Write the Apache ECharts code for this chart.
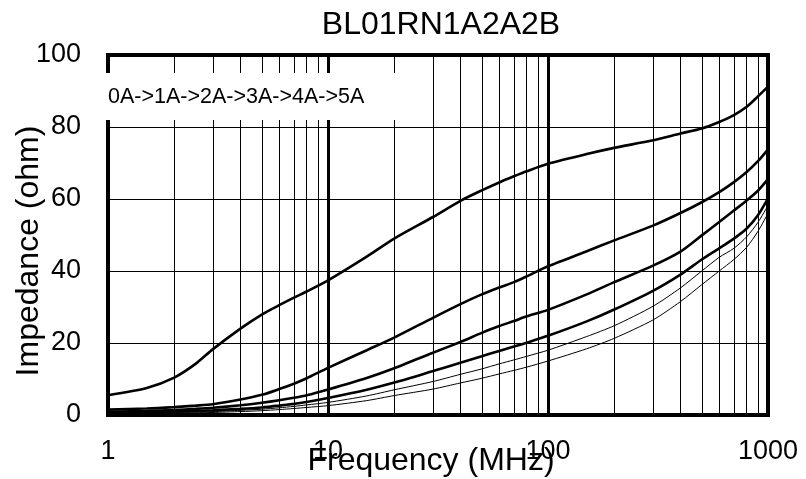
<!DOCTYPE html>
<html>
<head>
<meta charset="utf-8">
<script src="https://cdn.jsdelivr.net/npm/echarts@6/dist/echarts.min.js"></script>
<style>
html,body{margin:0;padding:0;background:#fff;}
#chart{width:806px;height:479px;}
</style>
</head>
<body>
<div id="chart"></div>
<script>
var titleText = 'BL01RN1A2A2B';
var xName = 'Frequency (MHz)';
var yName = 'Impedance (ohm)';
var seriesNames = ['0A', '1A', '2A', '3A', '4A', '5A'];
var freq = [1,1.5,2,2.5,3,4,5,6,7,8,10,15,20,30,40,50,60,70,80,100,150,200,300,400,500,600,700,800,900,1000];
var z0A = [5.5,7.5,10.4,14.2,18.3,24.0,27.9,30.5,32.6,34.3,37.4,44,49,55.0,59.5,62.4,64.6,66.3,67.7,69.8,72.5,74.2,76.3,78.2,79.6,81.4,83.3,85.6,88.5,91.2];
var z1A = [1.5,1.8,2.2,2.6,3.0,4.3,5.6,7.2,8.7,10.2,13.1,18.0,21.5,27.0,30.8,33.5,35.4,36.9,38.5,41.3,45.5,48.5,52.6,56.1,59.1,61.9,64.7,67.5,70.5,73.8];
var z2A = [0.9,1.1,1.4,1.7,2.0,2.7,3.4,4.1,4.8,5.5,7.1,10.3,13.0,17.3,20.3,22.8,24.7,26.1,27.4,29.2,33.5,36.9,41.5,45.4,49.9,53.6,56.8,59.6,62.3,65.5];
var z3A = [0.6,0.8,1.0,1.1,1.3,1.7,2.1,2.6,3.1,3.6,4.7,7.0,9.0,12.2,14.5,16.3,17.8,19.0,20.1,22.0,26.0,29.3,34.5,39.0,43.2,46.3,49.0,51.8,55.5,60.2];
var z4A = [0.4,0.55,0.7,0.8,0.95,1.3,1.6,2.0,2.4,2.8,3.5,5.3,7.0,9.3,11.3,12.8,14.2,15.3,16.3,18.0,21.8,24.8,30.2,35.3,40.0,43.8,46.3,49.5,53.5,58.2];
var z5A = [0.3,0.4,0.5,0.6,0.7,0.95,1.2,1.5,1.8,2.1,2.6,4.0,5.4,7.2,8.9,10.2,11.4,12.4,13.3,15.0,18.4,21.3,26.4,31.5,36.2,40.0,43.2,46.6,51.0,56.0];
var minorFreqs = [2,3,4,5,6,7,8,9,20,30,40,50,60,70,80,90,200,300,400,500,600,700,800,900];
var yTicks = [0,20,40,60,80,100];

var allValues = [z0A, z1A, z2A, z3A, z4A, z5A];
var widths = [2.6, 2.6, 2.6, 2.6, 1, 1];

var chart = echarts.init(document.getElementById('chart'), null, {renderer: 'canvas'});
var FONT = 'Liberation Sans, Arial, sans-serif';

var series = [{
  type: 'line',
  data: [],
  z: 1,
  silent: true,
  markLine: {
    silent: true,
    symbol: ['none', 'none'],
    label: {show: false},
    lineStyle: {color: '#000', width: 1, type: 'solid'},
    emphasis: {disabled: true},
    animation: false,
    data: minorFreqs.map(function (f) { return {xAxis: f}; })
  }
}];
allValues.forEach(function (vals, i) {
  series.push({
    name: seriesNames[i],
    type: 'line',
    z: 3,
    smooth: 0.25,
    showSymbol: false,
    symbol: 'none',
    lineStyle: {color: '#000', width: widths[i]},
    data: freq.map(function (f, k) { return [f, vals[k]]; })
  });
});

var option = {
  animation: false,
  backgroundColor: '#fff',
  title: {
    text: titleText,
    left: 436,
    top: 4,
    textAlign: 'center',
    textStyle: {fontFamily: FONT, fontSize: 32, fontWeight: 'normal', color: '#000'}
  },
  grid: {
    left: 108, right: 38, top: 55, bottom: 64,
    outerBoundsMode: 'none',
    containLabel: false,
    show: true, borderColor: '#000', borderWidth: 4, backgroundColor: 'transparent'
  },
  xAxis: {
    type: 'log',
    logBase: 10,
    min: 1,
    max: 1000,
    name: xName,
    nameLocation: 'middle',
    nameGap: 30,
    nameMoveOverlap: false,
    nameTextStyle: {fontFamily: FONT, fontSize: 32, color: '#000', padding: [0, 14, 0, 0]},
    axisLine: {show: false},
    axisTick: {show: false},
    axisLabel: {
      fontFamily: FONT, fontSize: 27, color: '#000', margin: 23,
      showMinLabel: true, showMaxLabel: true,
      formatter: function (v) { return String(Math.round(v)); }
    },
    splitLine: {show: true, lineStyle: {color: '#000', width: 3}}
  },
  yAxis: {
    type: 'value',
    min: yTicks[0],
    max: yTicks[yTicks.length - 1],
    interval: yTicks[1] - yTicks[0],
    name: yName,
    nameLocation: 'middle',
    nameGap: 63,
    nameMoveOverlap: false,
    nameTextStyle: {fontFamily: FONT, fontSize: 32, color: '#000', padding: [0, 32, 0, 0]},
    axisLine: {show: false},
    axisTick: {show: false},
    axisLabel: {fontFamily: FONT, fontSize: 27, color: '#000', margin: 27},
    splitLine: {show: true, lineStyle: {color: '#000', width: 1}}
  },
  graphic: [{
    type: 'group',
    z: 100,
    children: [{
      type: 'rect',
      shape: {x: 102, y: 73, width: 303, height: 47},
      style: {fill: '#fff'},
      z: 100
    }, {
      type: 'text',
      x: 108,
      y: 97,
      z: 101,
      style: {
        text: seriesNames.join('->'),
        fontFamily: FONT,
        fontSize: 21.5,
        fill: '#000',
        verticalAlign: 'middle'
      }
    }]
  }],
  series: series
};
chart.setOption(option);
</script>
</body>
</html>
